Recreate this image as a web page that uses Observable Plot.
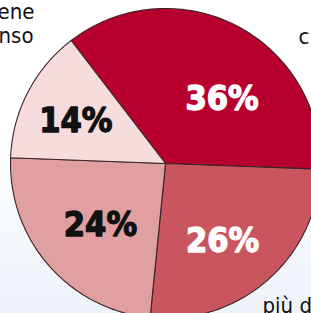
<!DOCTYPE html>
<html>
<head>
<meta charset="utf-8">
<script src="https://cdn.jsdelivr.net/npm/d3@7"></script>
<script src="https://cdn.jsdelivr.net/npm/@observablehq/plot@0.6"></script>
<style>
  html, body { margin: 0; padding: 0; overflow: hidden; }
  body { width: 311px; height: 313px; background: linear-gradient(#ffffff 0%, #ffffff 40%, #edf3fa 100%); }
  #chart svg { display: block; overflow: visible; }
</style>
</head>
<body>
<div id="chart"></div>
<script>
// Data (clockwise from the top-left boundary)
const categories = ["A", "B", "C", "D"];
const values = [36, 26, 24, 14];
const labels = ["36%", "26%", "24%", "14%"];
const colors = ["#b8002f", "#c9565f", "#e0a0a1", "#f6dcdc"];
const textColors = ["#ffffff", "#ffffff", "#111111", "#111111"];
const outerTexts = ["ene", "nso", "c", "più d"];

const startAngle = -37.5 * Math.PI / 180; // rotation of the first boundary (clockwise from up)
const total = d3.sum(values);

const slices = [];
const labelPts = [];
let acc = 0;
values.forEach((v, i) => {
  const a0 = startAngle + (acc / total) * 2 * Math.PI;
  const a1 = startAngle + ((acc + v) / total) * 2 * Math.PI;
  acc += v;
  slices.push({cat: categories[i], x: 0, y: 0});
  const n = 80;
  for (let k = 0; k <= n; k++) {
    const a = a0 + (a1 - a0) * k / n;
    slices.push({cat: categories[i], x: Math.sin(a), y: Math.cos(a)});
  }
  slices.push({cat: categories[i], x: 0, y: 0});
  const am = (a0 + a1) / 2;
  const r = 0.6;
  labelPts.push({cat: categories[i], label: labels[i], color: textColors[i], x: r * Math.sin(am), y: r * Math.cos(am)});
});

const labelFont = "DejaVu Sans Condensed, DejaVu Sans";
const nudges = {A: [14, 18], B: [-4, 8], C: [5, 0], D: [-7, 0]};
const labelMarks = categories.map(c => Plot.text(labelPts.filter(d => d.cat === c), {
  x: "x", y: "y", text: "label", fill: "color", stroke: "color", strokeWidth: 1.3,
  fontSize: 34, fontWeight: "bold", fontFamily: labelFont, dx: nudges[c][0], dy: nudges[c][1]
}));

const outerStyle = {frameAnchor: "top-left", text: d => d, lineAnchor: "bottom", fontSize: 22, fill: "#111111", fontFamily: labelFont};

const chart = Plot.plot({
  width: 311,
  height: 313,
  margin: 0,
  x: {domain: [-1, 1], range: [10, 320], axis: null},
  y: {domain: [-1, 1], range: [318, 8], axis: null},
  color: {domain: categories, range: colors},
  style: {background: "transparent", overflow: "visible"},
  marks: [
    Plot.line(slices, {x: "x", y: "y", z: "cat", fill: "cat", stroke: "#3b2326", strokeWidth: 1.1, curve: "linear"}),
    ...labelMarks,
    Plot.text([outerTexts[0]], {...outerStyle, textAnchor: "end", dx: 34, dy: 18}),
    Plot.text([outerTexts[1]], {...outerStyle, textAnchor: "end", dx: 33, dy: 42}),
    Plot.text([outerTexts[2]], {...outerStyle, textAnchor: "start", dx: 298, dy: 43}),
    Plot.text([outerTexts[3]], {...outerStyle, textAnchor: "start", dx: 262, dy: 312})
  ]
});
document.getElementById("chart").appendChild(chart);
</script>
</body>
</html>
